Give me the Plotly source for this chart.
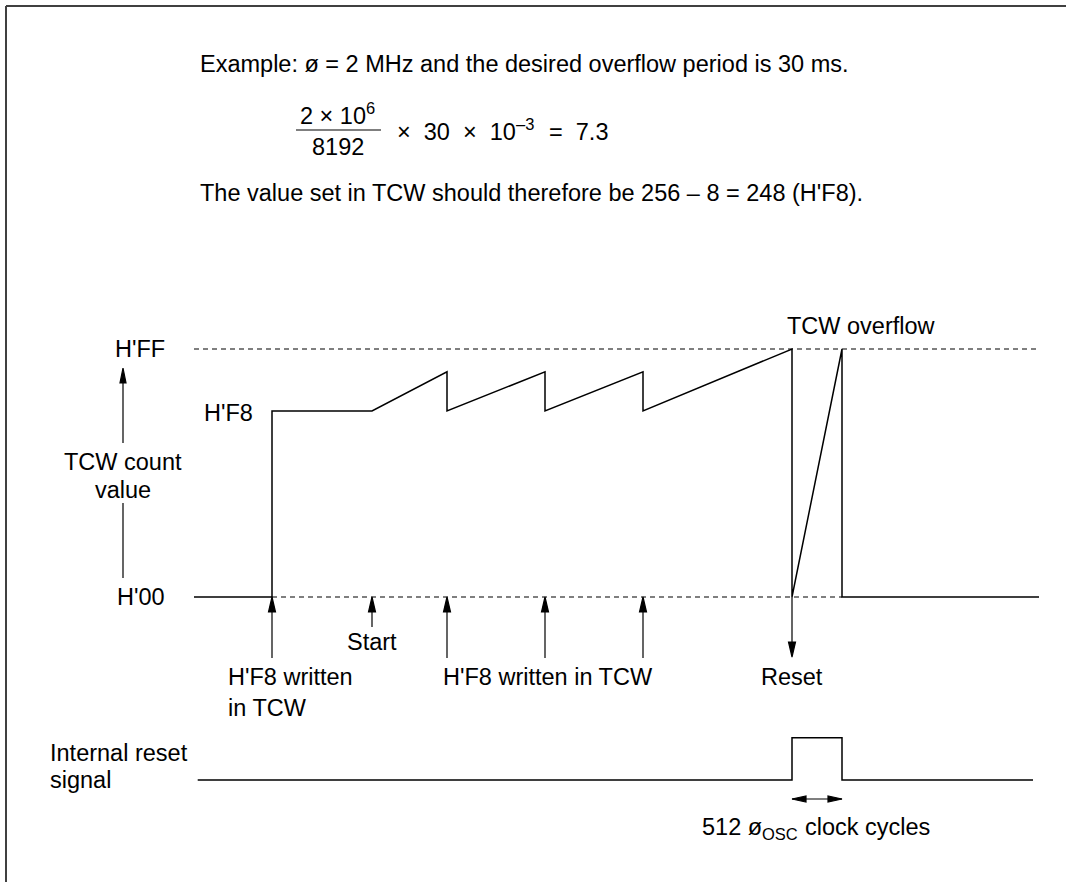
import plotly.graph_objects as go

W, H = 1066, 882

# ---------------- data ----------------
# time axis in arbitrary units (first write of H'F8 at t = 0)
t_begin = -7.8
t_write_first = 0.0
t_start = 10.0
t_write_again = [17.5, 27.3, 37.1]
t_overflow = 52.0
t_reset_end = 57.0
t_end = 76.7

# TCW count waveform (schematic level: H'00 = 0, H'FF = 1, not to scale)
count_t = [-7.8, 0.0, 0.0, 10.0, 17.5, 17.5, 27.3, 27.3, 37.1, 37.1, 52.0, 52.0, 57.0, 57.0, 76.7]
count_v = [0.0, 0.0, 0.75, 0.75, 0.908, 0.75, 0.908, 0.75, 0.908, 0.75, 1.0, 0.0, 1.0, 0.0, 0.0]

level_names = ["H'FF", "H'F8", "H'00"]
level_values = [1.0, 0.75, 0.0]

# internal reset signal (0 = low, 1 = high)
reset_t = [-7.43, 52.0, 52.0, 57.0, 57.0, 76.1]
reset_v = [0, 0, 1, 1, 0, 0]

write_events = [0.0, 17.5, 27.3, 37.1]

# ---------------- figure ----------------
FONT = "Liberation Sans, Arial, Helvetica, sans-serif"
FS = 23.5
FS_SMALL = 16.5


def px(x):
    return x / W


def py(y):
    return 1 - y / H


fig = go.Figure()

# dashed reference levels
fig.add_trace(go.Scatter(x=[t_begin, t_end], y=[level_values[0]] * 2, mode="lines",
                         line=dict(color="black", width=1.1, dash="5px,4px"), hoverinfo="skip"))
fig.add_trace(go.Scatter(x=[t_write_first, t_reset_end], y=[level_values[2]] * 2, mode="lines",
                         line=dict(color="black", width=1.1, dash="5px,4px"), hoverinfo="skip"))
# count waveform
fig.add_trace(go.Scatter(x=count_t, y=count_v, mode="lines",
                         line=dict(color="black", width=1.5), hoverinfo="skip"))
# internal reset signal
fig.add_trace(go.Scatter(x=reset_t, y=reset_v, mode="lines", yaxis="y2",
                         line=dict(color="black", width=1.5), hoverinfo="skip"))

shapes = []


def pshape(path, xanchor, yanchor, xref="x", yref="y"):
    return dict(type="path", xref=xref, yref=yref, xsizemode="pixel", ysizemode="pixel",
                xanchor=xanchor, yanchor=yanchor, path=path,
                line=dict(color="black", width=1.2), fillcolor="black")


# up arrows at H'00
for t in write_events:
    shapes.append(pshape("M0,-61 V-14 M0,0 L-3.5,-15 L3.5,-15 Z", t, 0.0))
shapes.append(pshape("M0,-30 V-14 M0,0 L-3.5,-15 L3.5,-15 Z", t_start, 0.0))
# reset arrow (down)
shapes.append(pshape("M0,0 V-46 M0,-60 L-3.5,-45 L3.5,-45 Z", t_overflow, 0.0))
# count value axis arrow
shapes.append(pshape("M0,19 V94 M0,154 V215 M0,229 L-3,214 L3,214 Z", px(123), 0.0, xref="paper"))
# double arrow under pulse
shapes.append(dict(type="line", xref="x", yref="y2", ysizemode="pixel", yanchor=0,
                   x0=t_overflow, x1=t_reset_end, y0=-19, y1=-19,
                   line=dict(color="black", width=1.2)))
shapes.append(pshape("M0,-19 L14,-16 L14,-22 Z", t_overflow, 0, yref="y2"))
shapes.append(pshape("M0,-19 L-14,-16 L-14,-22 Z", t_reset_end, 0, yref="y2"))
# fraction bar
shapes.append(dict(type="line", xref="paper", yref="paper", x0=px(296), x1=px(381),
                   y0=py(130), y1=py(130), line=dict(color="black", width=1.2)))
# frame
shapes.append(dict(type="line", xref="paper", yref="paper", x0=px(6), x1=1, y0=py(6), y1=py(6),
                   line=dict(color="#404040", width=2)))
shapes.append(dict(type="line", xref="paper", yref="paper", x0=px(6), x1=px(6), y0=py(6), y1=0,
                   line=dict(color="#404040", width=2)))

ann = []


def note(text, x, y, xanchor="left", xref="paper", yref="paper", yshift=0, xshift=0, size=FS):
    ann.append(dict(text=text, x=x, y=y, xref=xref, yref=yref, xanchor=xanchor, yanchor="middle",
                    showarrow=False, yshift=yshift, xshift=xshift, borderpad=0, borderwidth=0,
                    font=dict(family=FONT, size=size, color="black")))


note("Example: ø = 2 MHz and the desired overflow period is 30 ms.", px(200), py(64))
# formula
note("2 × 10", px(300), py(116))
note("6", px(366), py(108), size=FS_SMALL)
note("8192", px(338), py(147), "center")
note("×  30  ×  10", px(397), py(132))
note("–3", px(516), py(124), size=FS_SMALL)
note("=  7.3", px(549), py(132))
note("The value set in TCW should therefore be 256 – 8 = 248 (H'F8).", px(200), py(193))

note(level_names[0], px(165), level_values[0], "right", yref="y")
note(level_names[1], px(204), level_values[1], "left", yref="y", yshift=-2)
note(level_names[2], px(165), level_values[2], "right", yref="y")
note("TCW count", px(123), py(462), "center")
note("value", px(123), py(490), "center")
note("TCW overflow", px(787), level_values[0], "left", yref="y", yshift=23)
note("Start", t_start, 0.0, "center", xref="x", yref="y", yshift=-45)
note("H'F8 written", px(228), py(677))
note("in TCW", px(228), py(708))
note("H'F8 written in TCW", t_write_again[1], 0.0, "center", xref="x", yref="y", yshift=-80, xshift=3)
note("Reset", t_overflow, 0.0, "center", xref="x", yref="y", yshift=-80)
note("Internal reset", px(50), py(753))
note("signal", px(50), py(780))
note("512 ø", px(702), py(827))
note("OSC", px(762), py(834), size=FS_SMALL)
note("clock cycles", px(805), py(827))

fig.update_layout(
    width=W, height=H, autosize=False,
    margin=dict(l=0, r=0, t=0, b=0),
    paper_bgcolor="white", plot_bgcolor="white",
    showlegend=False,
    xaxis=dict(range=[-27.2, 79.4], visible=False, domain=[0, 1], fixedrange=True),
    yaxis=dict(range=[-1.14919, 2.40726], visible=False, domain=[0, 1], fixedrange=True),
    yaxis2=dict(range=[-2.41135, 18.4397], visible=False, overlaying="y", fixedrange=True),
    shapes=shapes,
    annotations=ann,
)

fig.write_html("out.html", config={"displayModeBar": False},
               post_script="document.body.style.margin='0';document.body.style.overflow='hidden';")
